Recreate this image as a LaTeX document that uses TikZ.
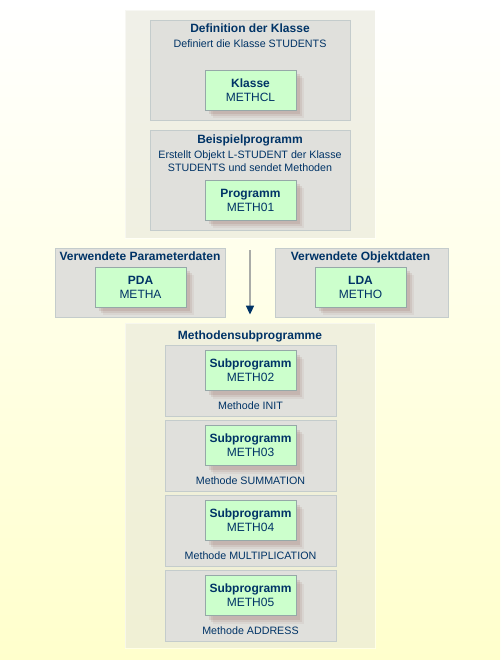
\documentclass[tikz,border=0pt]{standalone}
\usepackage{fontspec}
\setmainfont{Liberation Sans}
\usetikzlibrary{arrows.meta,shadows}

\definecolor{navy}{RGB}{0,51,102}
\definecolor{panelgray}{RGB}{230,230,218}
\definecolor{boxgray}{RGB}{224,224,220}
\definecolor{boxline}{RGB}{196,204,204}
\definecolor{mint}{RGB}{204,255,204}
\definecolor{mintline}{RGB}{150,168,168}
\definecolor{shadowred}{RGB}{140,90,80}
\definecolor{paleyellow}{RGB}{255,255,204}
\definecolor{stemgray}{RGB}{170,172,168}

\newcommand{\bigfont}{\fontsize{12}{14}\selectfont}
\newcommand{\smallfont}{\fontsize{10.7}{13}\selectfont}

\begin{document}
\begin{tikzpicture}[x=1pt, y=-1pt,
    panel/.style={draw=white, fill=panelgray, fill opacity=0.6, draw opacity=0.5, line width=0.8pt},
    greybox/.style={draw=boxline, fill=boxgray, line width=0.8pt},
    mintbox/.style={draw=mintline, fill=mint, line width=0.6pt, minimum width=91, minimum height=40,
        align=center, font=\bigfont, text=navy, inner sep=0pt,
        drop shadow={shadow xshift=8pt, shadow yshift=-8pt, opacity=0.08, fill=shadowred},
        drop shadow={shadow xshift=6pt, shadow yshift=-6pt, opacity=0.12, fill=shadowred},
        drop shadow={shadow xshift=4pt, shadow yshift=-4pt, opacity=0.15, fill=shadowred}},
    heading/.style={font=\bigfont\bfseries, text=navy, inner sep=0pt, anchor=base},
    note/.style={font=\smallfont, text=navy, inner sep=0pt, anchor=base},
    flow/.style={-{Triangle[width=8pt,length=9pt,color=navy]}, line width=1.6pt, draw=stemgray}]

    % 1. Background with the yellow gradient
    \fill[top color=white, bottom color=paleyellow] (0,0) rectangle (500,660);
    \useasboundingbox (0,0) rectangle (500,660);

    % 2. Outer panels
    \node[panel, minimum width=250, minimum height=228] (upper) at (250,124) {};
    \node[panel, minimum width=250, minimum height=325] (lower) at (250,485.5) {};

    % 3. Class definition
    \node[greybox, minimum width=200, minimum height=100] (defbox) at (250,70) {};
    \node[heading] (deftitle) at (250,33) {Definition der Klasse};
    \node[note] (defnote) at (250,48) {Definiert die Klasse STUDENTS};
    \node[mintbox] (klasse) at (250.5,90) {\textbf{Klasse}\\METHCL};

    % 4. Example program
    \node[greybox, minimum width=200, minimum height=100] (progbox) at (250,180) {};
    \node[heading] (progtitle) at (250,144) {Beispielprogramm};
    \node[note] (prognote) at (250,159) {Erstellt Objekt L-STUDENT der Klasse};
    \node[note] (prognote2) at (250,172) {STUDENTS und sendet Methoden};
    \node[mintbox] (programm) at (250.5,200) {\textbf{Programm}\\METH01};

    % 5. Data areas
    \node[greybox, minimum width=170, minimum height=69] (pdabox) at (140,282.5) {};
    \node[heading] (pdatitle) at (140,260) {Verwendete Parameterdaten};
    \node[mintbox] (pda) at (140.5,287) {\textbf{PDA}\\METHA};

    \node[greybox, minimum width=173, minimum height=69] (ldabox) at (361.5,282.5) {};
    \node[heading] (ldatitle) at (360.5,260) {Verwendete Objektdaten};
    \node[mintbox] (lda) at (360.5,287) {\textbf{LDA}\\METHO};

    % Arrow between the panels
    \draw[flow] ([yshift=-12pt]upper.south) -- ([yshift=8pt]lower.north);

    % 6. Method subprograms
    \node[heading] (subtitle) at (250,339) {Methodensubprogramme};
    \foreach \i/\num/\meth in {0/02/INIT, 1/03/SUMMATION, 2/04/MULTIPLICATION, 3/05/ADDRESS} {
        \pgfmathsetmacro{\yc}{380.5+75*\i}
        \node[greybox, minimum width=171, minimum height=71] (sub\i) at (250.5,\yc) {};
        \node[mintbox] (meth\i) at (250.5,\yc-10) {\textbf{Subprogramm}\\METH\num};
        \node[note] (label\i) at (250.5,\yc+28.5) {Methode \meth};
    }

\end{tikzpicture}
\end{document}
